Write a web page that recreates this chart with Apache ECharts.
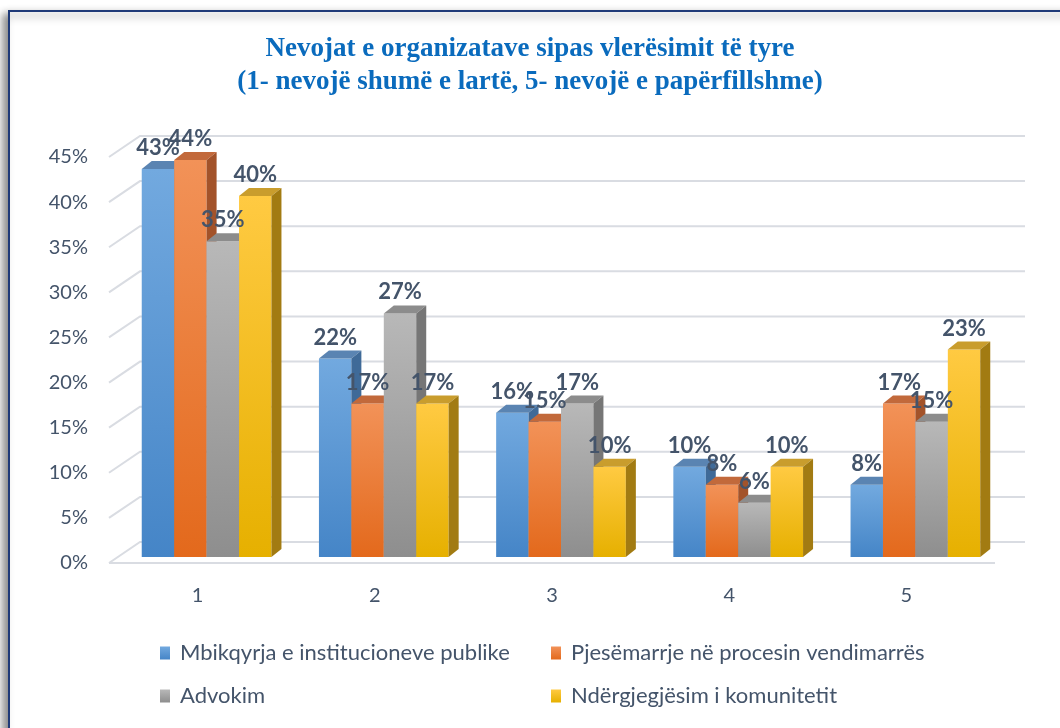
<!DOCTYPE html>
<html>
<head>
<meta charset="utf-8">
<script src="https://cdn.jsdelivr.net/npm/echarts@6/dist/echarts.min.js"></script>
<style>
html,body{margin:0;padding:0;background:#fff;}
#chart{width:1060px;height:728px;}
</style>
</head>
<body>
<div id="chart"></div>
<script>
// ---- data ----
const categories = ['1', '2', '3', '4', '5'];
const seriesNames = [
  'Mbikqyrja e institucioneve publike',
  'Pjesëmarrje në procesin vendimarrës',
  'Advokim',
  'Ndërgjegjësim i komunitetit'
];
const mbikqyrja = [43, 22, 16, 10, 8];
const pjesemarrje = [44, 17, 15, 8, 17];
const advokim = [35, 27, 17, 6, 15];
const ndergjegjesim = [40, 17, 10, 10, 23];
const yTicks = [0, 5, 10, 15, 20, 25, 30, 35, 40, 45];
const titleLines = ['Nevojat e organizatave sipas vlerësimit të tyre', '(1- nevojë shumë e lartë, 5- nevojë e papërfillshme)'];

// ---- styles ----
const G = (a, b) => new echarts.graphic.LinearGradient(0, 0, 0, 1, [{offset: 0, color: a}, {offset: 1, color: b}]);
const palette = [
  {front: ['#72a9df', '#4585c7'], top: '#5a84b2', side: '#3f6a98'},
  {front: ['#f29258', '#e3691c'], top: '#c2693b', side: '#a3532a'},
  {front: ['#b8b8b8', '#8e8e8e'], top: '#8c8c8c', side: '#767676'},
  {front: ['#ffca42', '#e6b000'], top: '#c99d2d', side: '#a27b12'}
];
const TXT = '#44546a';
const FONT = 'Lato, "Open Sans", sans-serif';
const valuesList = [mbikqyrja, pjesemarrje, advokim, ndergjegjesim];

const chart = echarts.init(document.getElementById('chart'), null, {renderer: 'canvas'});

function barRenderer(k) {
  return function (params, api) {
    const ci = api.value(0), v = api.value(1);
    const base = api.coord([ci, 0]);
    const top = api.coord([ci, v]);
    const band = api.size([1, 0])[0];
    const w = band * 0.183;
    const DX = 9, DY = 6, dx = 10, dy = 8;
    const x = base[0] - 2 * w + DX + k * w;
    const yb = base[1] - DY, yt = top[1] - DY;
    const p = palette[k];
    return {
      type: 'group',
      children: [
        {type: 'rect', shape: {x: x, y: yt, width: w, height: yb - yt}, style: {fill: G(p.front[0], p.front[1])}},
        {type: 'polygon', shape: {points: [[x, yt], [x + dx, yt - dy], [x + w + dx, yt - dy], [x + w, yt]]}, style: {fill: p.top}},
        {type: 'polygon', shape: {points: [[x + w, yt], [x + w + dx, yt - dy], [x + w + dx, yb - dy], [x + w, yb]]}, style: {fill: p.side}},
        {type: 'text', x: x + w / 2, y: yt - dy - 2, z2: 100,
          style: {text: v + '%', align: 'center', verticalAlign: 'bottom', fill: TXT, font: 'bold 22px ' + FONT}}
      ]
    };
  };
}

const wallSeries = {
  type: 'custom',
  silent: true,
  z: 1,
  data: yTicks.map(t => [0, t]),
  encode: {x: 0, y: 1},
  renderItem: function (params, api) {
    const cs = params.coordSys;
    const t = api.value(1);
    const y = api.coord([0, t])[1];
    const children = [{
      type: 'polyline',
      shape: {points: [[cs.x, y], [cs.x + 31, y - 21], [cs.x + cs.width + 30, y - 21]]},
      style: {stroke: '#d9dce2', lineWidth: 2, fill: null}
    }];
    if (t === 0) {
      children.push({type: 'line', shape: {x1: cs.x, y1: y, x2: cs.x + cs.width, y2: y},
        style: {stroke: '#d9dce2', lineWidth: 2}});
    }
    return {type: 'group', children: children};
  }
};

const barSeries = valuesList.map((vals, k) => ({
  type: 'custom',
  name: seriesNames[k],
  z: 2,
  itemStyle: {color: G(palette[k].front[0], palette[k].front[1])},
  data: vals.map((v, i) => [i, v]),
  encode: {x: 0, y: 1},
  renderItem: barRenderer(k)
}));

const legendBase = {
  orient: 'vertical', top: 642, itemGap: 21, padding: 0,
  icon: 'rect', itemWidth: 10, itemHeight: 13,
  textStyle: {fontFamily: FONT, fontSize: 22, color: TXT, padding: [0, 0, 0, 5]}
};

const option = {
  backgroundColor: '#ffffff',
  animation: false,
  title: {
    text: titleLines.join('\n'),
    left: 'center',
    top: 28,
    textStyle: {fontFamily: '"Liberation Serif", "Times New Roman", serif', fontWeight: 'bold', fontSize: 27, color: '#0a6bbd', lineHeight: 33}
  },
  graphic: [{
    type: 'rect', z: -10, silent: true,
    shape: {x: 9, y: 11, width: 1100, height: 800},
    style: {fill: '#ffffff', stroke: '#1f3a78', lineWidth: 2, shadowBlur: 8, shadowColor: 'rgba(0,0,0,0.45)', shadowOffsetX: -5, shadowOffsetY: 4}
  }],
  legend: [
    Object.assign({}, legendBase, {data: [seriesNames[0], seriesNames[2]], left: 160}),
    Object.assign({}, legendBase, {data: [seriesNames[1], seriesNames[3]], left: 551})
  ],
  grid: {left: 109, top: 157, width: 886, height: 406, containLabel: false, outerBoundsMode: 'none'},
  xAxis: {
    type: 'category', data: categories,
    axisLine: {show: false}, axisTick: {show: false}, splitLine: {show: false},
    axisLabel: {fontFamily: FONT, fontSize: 20, color: TXT, margin: 23}
  },
  yAxis: {
    type: 'value', min: 0, max: 45, interval: 5,
    axisLine: {show: false}, axisTick: {show: false}, splitLine: {show: false},
    axisLabel: {formatter: '{value}%', fontFamily: FONT, fontSize: 20, color: TXT, margin: 21}
  },
  series: [wallSeries].concat(barSeries)
};
chart.setOption(option);
</script>
</body>
</html>
